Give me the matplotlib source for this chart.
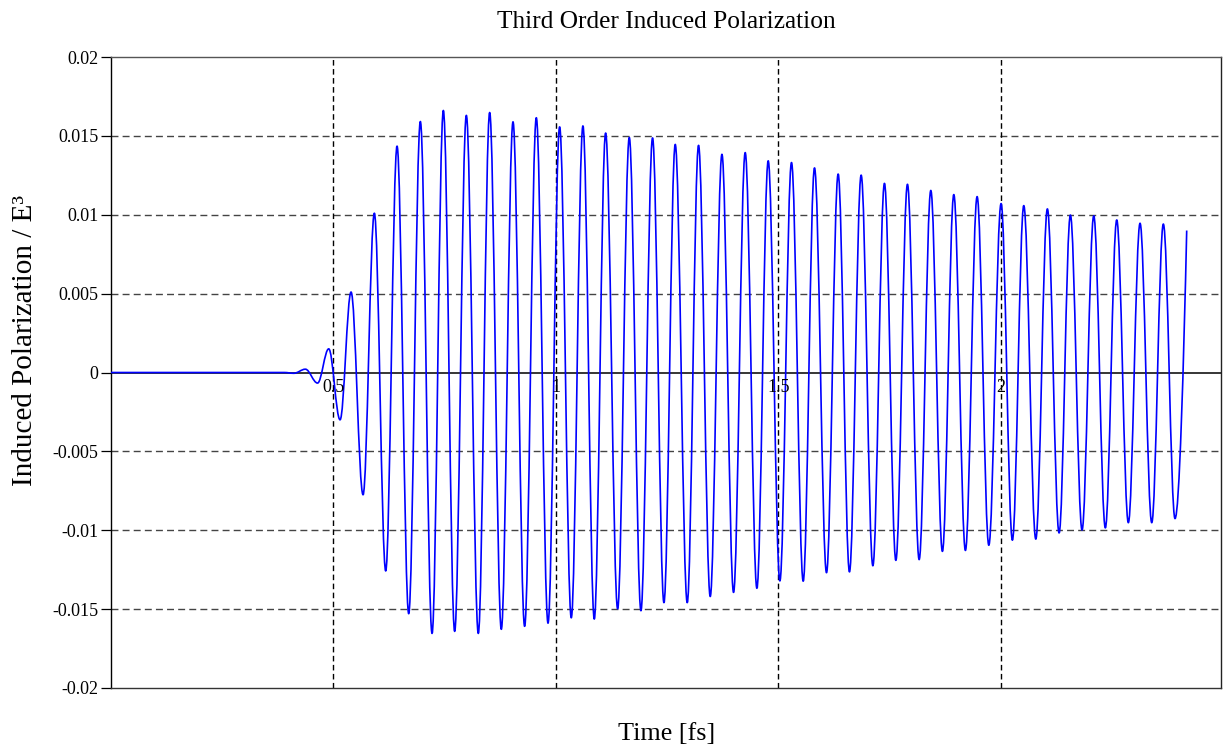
import matplotlib
matplotlib.use("Agg")
import matplotlib.pyplot as plt
from matplotlib.path import Path
from matplotlib.patches import PathPatch
from matplotlib.ticker import FixedLocator, FixedFormatter

# Time samples [fs] of the turning points of the induced polarization trace
time_fs = [
    0.0, 0.39, 0.411, 0.437, 0.4644, 0.4895, 0.515, 0.5397, 0.5667, 0.5921,
    0.6176, 0.6431, 0.6693, 0.6955, 0.7218, 0.7472, 0.7726, 0.7989, 0.8258,
    0.8513, 0.8775, 0.9038, 0.9299, 0.9562, 0.9825, 1.0086, 1.0348, 1.061,
    1.0865, 1.112, 1.139, 1.1652, 1.1914, 1.2175, 1.2431, 1.2685, 1.2955,
    1.3209, 1.3472, 1.3735, 1.3996, 1.4258, 1.4521, 1.4775, 1.5038, 1.5299,
    1.5562, 1.5816, 1.6086, 1.6348, 1.6602, 1.6865, 1.7128, 1.7389, 1.7645,
    1.7906, 1.8169, 1.8431, 1.8692, 1.8948, 1.9209, 1.9472, 1.9735, 2.0011,
    2.0265, 2.0521, 2.0791, 2.1052, 2.1315, 2.1569, 2.1831, 2.2094, 2.2355,
    2.2611, 2.2872, 2.3135, 2.3398, 2.3659, 2.3921, 2.4184,
]

# Third order induced polarization (normalised by E^3)
polarization = [
    0.0, 0.0, -0.00005, 0.00021, -0.00067, 0.0015, -0.0030, 0.0051, -0.00775,
    0.0101, -0.01258, 0.01435, -0.01529, 0.01591, -0.01654, 0.01661, -0.01641,
    0.0163, -0.01654, 0.01648, -0.01628, 0.01589, -0.01609, 0.01615, -0.01589,
    0.01557, -0.01555, 0.01563, -0.01563, 0.01518, -0.01498, 0.0149, -0.0151,
    0.01487, -0.01459, 0.01446, -0.01459, 0.0144, -0.0142, 0.01383, -0.01394,
    0.01394, -0.01368, 0.01342, -0.01321, 0.01331, -0.01323, 0.01297, -0.01269,
    0.01258, -0.01264, 0.01251, -0.01225, 0.01199, -0.01191, 0.01193, -0.01186,
    0.01154, -0.01134, 0.01128, -0.01128, 0.01115, -0.01095, 0.01071, -0.01063,
    0.01058, -0.01056, 0.01037, -0.01017, 0.00998, -0.00998, 0.00993, -0.00985,
    0.00967, -0.00952, 0.00946, -0.00952, 0.00941, -0.00926, 0.0090,
]

x_ticks = [0.5, 1.0, 1.5, 2.0]
x_tick_labels = ["0.5", "1", "1.5", "2"]
y_ticks = [0.02, 0.015, 0.01, 0.005, 0.0, -0.005, -0.01, -0.015, -0.02]
y_tick_labels = ["0.02", "0.015", "0.01", "0.005", "0",
                 "-0.005", "-0.01", "-0.015", "-0.02"]

serif = ["Liberation Serif", "DejaVu Serif"]
plt.rcParams["font.family"] = serif


def smooth_trace_path(ts, vs):
    """Cubic Bezier path through the turning points, with flat tangents at
    each extremum so every half cycle takes a cosine-like shape."""
    k = 0.3634
    verts = [(ts[0], vs[0])]
    codes = [Path.MOVETO]
    n = len(ts)
    for i in range(1, n):
        t0, v0, t1, v1 = ts[i - 1], vs[i - 1], ts[i], vs[i]
        dt = t1 - t0
        c1 = (t0 + k * dt, v0)
        if i == n - 1:
            # trace stops on a rising flank, not at an extremum
            c2 = (t1 - 0.25 * dt, v1 - 0.45 * (v1 - v0))
        else:
            c2 = (t1 - k * dt, v1)
        verts += [c1, c2, (t1, v1)]
        codes += [Path.CURVE4] * 3
    return Path(verts, codes)


W, H = 1225, 749
fig = plt.figure(figsize=(W / 100, H / 100), dpi=100)
left, right, top, bottom = 111, 1221, 57, 688
ax = fig.add_axes([left / W, 1 - bottom / H, (right - left) / W, (bottom - top) / H])

ax.set_xlim(0, 2.4955)
ax.set_ylim(-0.02, 0.02)

# grid lines
for yv in y_ticks[1:-1]:
    if yv != 0:
        ax.axhline(yv, color="#444444", lw=1.0, ls=(0, (5, 3)), zorder=1)
for xv in x_ticks:
    ax.axvline(xv, color="black", lw=1.0, ls=(0, (4, 2.5)), zorder=1)
ax.axhline(0, color="black", lw=1.1, zorder=2)

trace = PathPatch(smooth_trace_path(time_fs, polarization), facecolor="none",
                  edgecolor="#0000ff", lw=1.2, joinstyle="round", zorder=3)
ax.add_patch(trace)

# axes decoration
ax.yaxis.set_major_locator(FixedLocator(y_ticks))
ax.yaxis.set_major_formatter(FixedFormatter(y_tick_labels))
ax.tick_params(axis="y", direction="out", length=7, width=0.9, pad=2,
               labelsize=13)
ax.set_xticks([])
for side in ["left", "right", "top", "bottom"]:
    ax.spines[side].set_linewidth(1.0)
ax.spines["left"].set_color("black")
ax.spines["top"].set_color("#555555")
ax.spines["bottom"].set_color("#333333")
ax.spines["right"].set_color("#222222")

for xv, lab in zip(x_ticks, x_tick_labels):
    ax.text(xv, -0.0004, lab, ha="center", va="top", fontsize=13, zorder=4)

fig.text(666 / W, 1 - 22 / H, "Third Order Induced Polarization",
         ha="center", va="center", fontsize=18.3)
fig.text(667 / W, 1 - 734 / H, "Time [fs]", ha="center", va="center",
         fontsize=18.8)
fig.text(25 / W, 1 - 341 / H, "Induced Polarization / E³", ha="center",
         va="center", rotation=90, fontsize=21)

fig.savefig("out.png", dpi=100)
